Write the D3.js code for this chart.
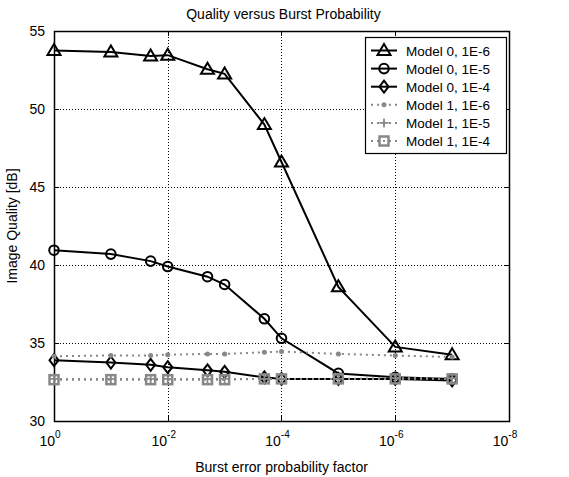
<!DOCTYPE html>
<html>
<head>
<meta charset="utf-8">
<script src="https://cdn.jsdelivr.net/npm/d3@7/dist/d3.min.js"></script>
<style>
  html, body { margin: 0; padding: 0; background: #fff; }
  svg { display: block; font-family: "Liberation Sans", Arial, sans-serif; }
</style>
</head>
<body>
<svg id="chart" width="569" height="477"></svg>
<script>
// ---------- data ----------
const burstFactor = [1, 0.1, 0.02, 0.01, 0.002, 0.001, 2e-4, 1e-4, 1e-5, 1e-6, 1e-7];

const model0_1e6 = [53.75, 53.65, 53.4, 53.45, 52.55, 52.25, 49.0, 46.6, 38.6, 34.75, 34.25];
const model0_1e5 = [40.95, 40.7, 40.25, 39.9, 39.25, 38.75, 36.55, 35.3, 33.05, 32.8, 32.7];
const model0_1e4 = [33.9, 33.75, 33.6, 33.45, 33.25, 33.15, 32.8, 32.7, 32.7, 32.7, 32.6];
const model1_1e6 = [34.15, 34.2, 34.2, 34.25, 34.3, 34.3, 34.4, 34.45, 34.3, 34.2, 34.1];
const model1_1e5 = [32.7, 32.7, 32.7, 32.7, 32.7, 32.7, 32.7, 32.7, 32.7, 32.75, 32.75];
const model1_1e4 = [32.65, 32.65, 32.65, 32.65, 32.65, 32.65, 32.7, 32.7, 32.7, 32.7, 32.7];

const xTicks = [1, 1e-2, 1e-4, 1e-6, 1e-8];
const xTickExp = ["0", "-2", "-4", "-6", "-8"];
const yTicks = [30, 35, 40, 45, 50, 55];

const series = [
  { name: "Model 0, 1E-6", values: model0_1e6, color: "#000", dash: null, marker: "triangle" },
  { name: "Model 0, 1E-5", values: model0_1e5, color: "#000", dash: null, marker: "circle" },
  { name: "Model 0, 1E-4", values: model0_1e4, color: "#000", dash: null, marker: "diamond" },
  { name: "Model 1, 1E-6", values: model1_1e6, color: "#888", dash: "2,4", marker: "dot" },
  { name: "Model 1, 1E-5", values: model1_1e5, color: "#888", dash: "2,4", marker: "plus" },
  { name: "Model 1, 1E-4", values: model1_1e4, color: "#888", dash: "2,4", marker: "square" },
];

// ---------- layout ----------
const svg = d3.select("#chart");
const plotL = 54, plotR = 509, plotT = 31, plotB = 421;

const x = d3.scaleLog().domain([1, 1e-8]).range([plotL, plotR]);
const y = d3.scaleLinear().domain([30, 55]).range([plotB, plotT]);

// grid
const grid = svg.append("g").attr("stroke", "#000").attr("stroke-width", 1).attr("stroke-dasharray", "1,2");
grid.selectAll("line.gx").data(xTicks.slice(1, -1)).join("line")
  .attr("x1", (d) => Math.round(x(d)) + 0.5).attr("x2", (d) => Math.round(x(d)) + 0.5)
  .attr("y1", plotT).attr("y2", plotB);
grid.selectAll("line.gy").data(yTicks.slice(1, -1)).join("line")
  .attr("y1", (d) => Math.round(y(d)) + 0.5).attr("y2", (d) => Math.round(y(d)) + 0.5)
  .attr("x1", plotL).attr("x2", plotR);

// ticks on all four sides, pointing inward
const tickLen = 5;
const ticks = svg.append("g").attr("stroke", "#000").attr("stroke-width", 1);
for (const d of xTicks) {
  const px = Math.round(x(d)) + 0.5;
  ticks.append("line").attr("x1", px).attr("x2", px).attr("y1", plotB).attr("y2", plotB - tickLen);
  ticks.append("line").attr("x1", px).attr("x2", px).attr("y1", plotT).attr("y2", plotT + tickLen);
}
for (const d of yTicks) {
  const py = Math.round(y(d)) + 0.5;
  ticks.append("line").attr("y1", py).attr("y2", py).attr("x1", plotL).attr("x2", plotL + tickLen);
  ticks.append("line").attr("y1", py).attr("y2", py).attr("x1", plotR).attr("x2", plotR - tickLen);
}

// frame
svg.append("rect")
  .attr("x", plotL + 0.5).attr("y", plotT + 0.5)
  .attr("width", plotR - plotL).attr("height", plotB - plotT)
  .attr("fill", "none").attr("stroke", "#000").attr("stroke-width", 1.5);

// tick labels
svg.append("g").selectAll("text").data(yTicks).join("text")
  .attr("x", plotL - 9).attr("y", (d) => y(d) + 5)
  .attr("text-anchor", "end").attr("font-size", 14)
  .text((d) => d);

const xl = svg.append("g").selectAll("text").data(xTicks).join("text")
  .attr("x", (d) => x(d) - 4).attr("y", plotB + 25)
  .attr("text-anchor", "middle").attr("font-size", 14);
xl.append("tspan").text("10");
xl.append("tspan").attr("dy", -8).attr("font-size", 10).text((d, i) => xTickExp[i]);

// titles
svg.append("text").attr("x", (plotL + plotR) / 2 + 2).attr("y", 19)
  .attr("text-anchor", "middle").attr("font-size", 14)
  .text("Quality versus Burst Probability");
svg.append("text").attr("x", (plotL + plotR) / 2).attr("y", 472)
  .attr("text-anchor", "middle").attr("font-size", 14)
  .text("Burst error probability factor");
svg.append("text")
  .attr("transform", `translate(17,${(plotT + plotB) / 2}) rotate(-90)`)
  .attr("text-anchor", "middle").attr("font-size", 14)
  .text("Image Quality [dB]");

// ---------- markers ----------
function drawMarker(g, type, color) {
  if (type === "triangle") {
    g.append("path").attr("d", "M0,-6.5L6.5,4.5L-6.5,4.5Z")
      .attr("fill", "none").attr("stroke", color).attr("stroke-width", 2);
  } else if (type === "circle") {
    g.append("circle").attr("r", 4.8)
      .attr("fill", "none").attr("stroke", color).attr("stroke-width", 2);
  } else if (type === "diamond") {
    g.append("path").attr("d", "M0,-6L4.5,0L0,6L-4.5,0Z")
      .attr("fill", "none").attr("stroke", color).attr("stroke-width", 2);
  } else if (type === "dot") {
    g.append("circle").attr("r", 2.5).attr("fill", color);
  } else if (type === "plus") {
    g.append("path").attr("d", "M-4.5,0H4.5M0,-4.5V4.5")
      .attr("stroke", color).attr("stroke-width", 1.8);
  } else if (type === "square") {
    g.append("rect").attr("x", -4.5).attr("y", -4.5).attr("width", 9).attr("height", 9)
      .attr("fill", "none").attr("stroke", color).attr("stroke-width", 2.5);
  }
}

const line = d3.line().x((d) => x(d[0])).y((d) => y(d[1]));

const plot = svg.append("g");
for (const s of series) {
  const pts = burstFactor.map((b, i) => [b, s.values[i]]);
  plot.append("path").attr("d", line(pts))
    .attr("fill", "none").attr("stroke", s.color).attr("stroke-width", 2)
    .attr("stroke-dasharray", s.dash);
  for (const p of pts) {
    const g = plot.append("g").attr("transform", `translate(${x(p[0])},${y(p[1])})`);
    drawMarker(g, s.marker, s.color);
  }
}

// ---------- legend ----------
const lgX = 365, lgY = 37, lgW = 141, lgH = 116;
const legend = svg.append("g");
legend.append("rect").attr("x", lgX + 0.5).attr("y", lgY + 0.5).attr("width", lgW).attr("height", lgH)
  .attr("fill", "#fff").attr("stroke", "#000").attr("stroke-width", 1.2);
series.forEach((s, i) => {
  const cy = lgY + 13.5 + i * 18.1;
  legend.append("line").attr("x1", lgX + 6).attr("x2", lgX + 32).attr("y1", cy).attr("y2", cy)
    .attr("stroke", s.color).attr("stroke-width", 2).attr("stroke-dasharray", s.dash);
  drawMarker(legend.append("g").attr("transform", `translate(${lgX + 19},${cy})`), s.marker, s.color);
  legend.append("text").attr("x", lgX + 41).attr("y", cy + 5)
    .attr("font-size", 13.5).text(s.name);
});
</script>
</body>
</html>
